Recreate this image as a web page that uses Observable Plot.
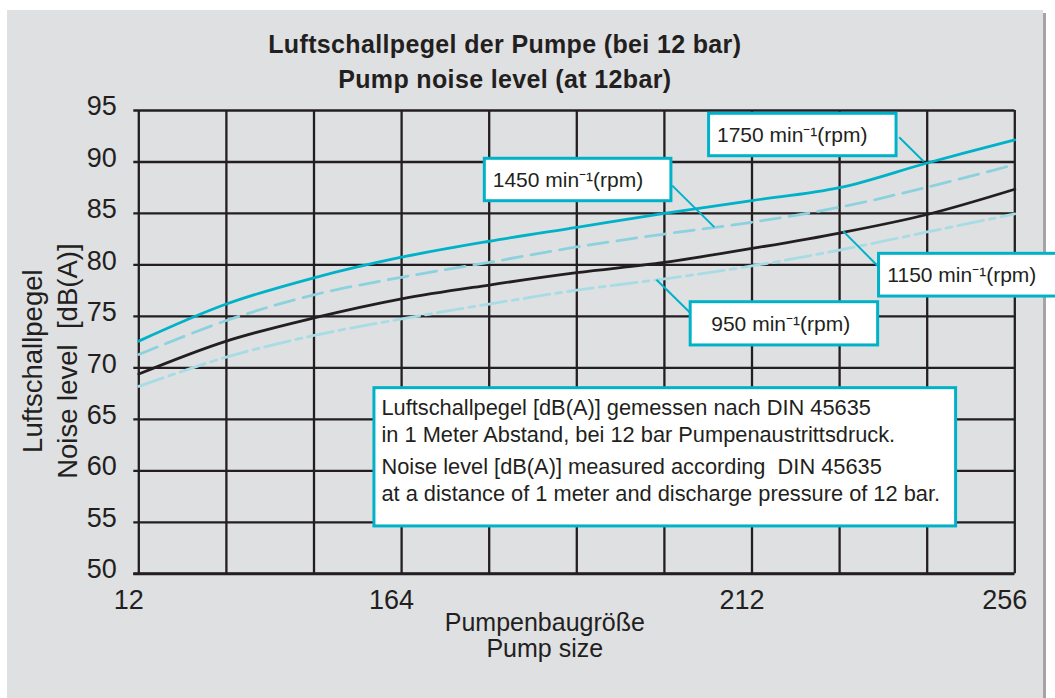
<!DOCTYPE html>
<html><head><meta charset="utf-8">
<script src="https://cdn.jsdelivr.net/npm/d3@7"></script>
<script src="https://cdn.jsdelivr.net/npm/@observablehq/plot@0.6"></script>
<style>
html,body{margin:0;padding:0;background:#fff;overflow:hidden}
#wrap{position:relative;width:1055px;height:698px}
#panel{position:absolute;left:7px;top:10px;width:1036px;height:688px;background:#dfe0e2}
#shadow{position:absolute;left:1043px;top:13px;width:3px;height:685px;background:#a4a4a4}
#chart{position:absolute;left:0;top:0}
</style></head><body>
<div id="wrap"><div id="panel"></div><div id="shadow"></div><div id="chart"></div></div>
<script>
// ---- data ----
const gridPositions = [0, 1, 2, 3, 4, 5, 6, 7, 8, 9, 10];
const rpm1750 = [72.6, 76.2, 78.75, 80.75, 82.3, 83.65, 85.0, 86.25, 87.5, 89.9, 92.15];
const rpm1450 = [71.3, 74.6, 77.1, 78.8, 80.25, 81.75, 83.0, 84.15, 85.6, 87.55, 89.75];
const rpm1150 = [69.4, 72.6, 74.85, 76.7, 78.05, 79.25, 80.25, 81.6, 83.1, 84.9, 87.35];
const rpm950  = [68.2, 71.05, 73.15, 74.75, 76.2, 77.55, 78.65, 79.9, 81.45, 83.2, 84.95];
const xTickPositions = [0, 3, 7, 10];
const xTickLabels = ["12", "164", "212", "256"];
const yTicks = [50, 55, 60, 65, 70, 75, 80, 85, 90, 95];
const seriesLabels = ["1750 min⁻¹(rpm)", "1450 min⁻¹(rpm)", "1150 min⁻¹(rpm)", "950 min⁻¹(rpm)"];
const titleLines = ["Luftschallpegel der Pumpe (bei 12 bar)", "Pump noise level (at 12bar)"];
const xTitle = ["Pumpenbaugröße", "Pump size"];
const yTitle = ["Luftschallpegel", "Noise level  [dB(A)]"];
const noteDe = ["Luftschallpegel [dB(A)] gemessen nach DIN 45635", "in 1 Meter Abstand, bei 12 bar Pumpenaustrittsdruck."];
const noteEn = ["Noise level [dB(A)] measured according  DIN 45635", "at a distance of 1 meter and discharge pressure of 12 bar."];

// ---- annotation layout (data coordinates) ----
const callouts = [
  {label: seriesLabels[0], x1: 6.51, x2: 8.65, y1: 90.56, y2: 94.68, tx: 6.60, lx1: 8.68, ly1: 92.4, lx2: 8.96, ly2: 90.05},
  {label: seriesLabels[1], x1: 3.95, x2: 6.08, y1: 86.19, y2: 90.31, tx: 4.04, lx1: 6.09, ly1: 87.7, lx2: 6.57, ly2: 83.67},
  {label: seriesLabels[2], x1: 8.45, x2: 10.5, y1: 76.93, y2: 81.08, tx: 8.545, lx1: 8.43, ly1: 79.95, lx2: 8.04, ly2: 83.28},
  {label: seriesLabels[3], x1: 6.30, x2: 8.44, y1: 72.18, y2: 76.38, tx: 6.535, lx1: 6.30, ly1: 75.31, lx2: 5.91, ly2: 78.56}
];
const noteBox = {x1: 2.69, x2: 9.33, y1: 54.6, y2: 68.03, tx: 2.77};

const teal = "#00b2c8", dashTeal = "#8cd2de", dotTeal = "#a8dce5", ink = "#231f20";
const font = "'Liberation Sans', Arial, Helvetica, sans-serif";

const series = [
  {values: rpm1750, stroke: teal, dash: null},
  {values: rpm1450, stroke: dashTeal, dash: "20,9"},
  {values: rpm1150, stroke: ink, dash: null},
  {values: rpm950, stroke: dotTeal, dash: "26,6,6,6"}
];
const lineMarks = series.map(s => Plot.line(gridPositions.map((p, i) => ({x: p, y: s.values[i]})), {
  x: "x", y: "y", stroke: s.stroke, strokeWidth: 2.8, strokeDasharray: s.dash, curve: "catmull-rom"
}));

const chart = Plot.plot({
  width: 1055, height: 698,
  marginLeft: 138.3, marginRight: 40.7, marginTop: 110, marginBottom: 124.7,
  x: {domain: [0, 10], axis: null},
  y: {domain: [50, 95], axis: null},
  style: {fontFamily: font, fontSize: "25px", background: "transparent", color: ink},
  marks: [
    Plot.ruleY(yTicks, {stroke: ink, strokeWidth: 2.3, insetLeft: -5}),
    Plot.ruleX(gridPositions, {stroke: ink, strokeWidth: 2.3}),
    Plot.ruleY([50], {stroke: ink, strokeWidth: 3, insetLeft: -5}),
    ...lineMarks,
    Plot.link(callouts, {x1: "lx1", y1: "ly1", x2: "lx2", y2: "ly2", stroke: teal, strokeWidth: 2}),
    Plot.rect(callouts, {x1: "x1", x2: "x2", y1: "y1", y2: "y2", fill: "white", stroke: teal, strokeWidth: 3}),
    Plot.text(callouts, {x: "tx", y: d => (d.y1 + d.y2) / 2, text: "label", textAnchor: "start", fontSize: 21, fill: ink}),
    Plot.rect([noteBox], {x1: "x1", x2: "x2", y1: "y1", y2: "y2", fill: "white", stroke: teal, strokeWidth: 3}),
    Plot.text([noteDe.join("\n")], {x: noteBox.tx, y: noteBox.y2, text: d => d, textAnchor: "start", lineAnchor: "top", lineHeight: 1.22, dy: 8, fontSize: 21.8, fill: ink}),
    Plot.text([noteEn.join("\n")], {x: noteBox.tx, y: noteBox.y2, text: d => d, textAnchor: "start", lineAnchor: "top", lineHeight: 1.27, dy: 66, fontSize: 21.8, fill: ink}),
    // tick labels
    Plot.text(yTicks, {y: d => d, text: d => String(d), frameAnchor: "left", textAnchor: "end", dx: -22, dy: -4, fontSize: 27, fill: ink}),
    Plot.text(xTickPositions, {x: d => d, text: (d, i) => xTickLabels[i], frameAnchor: "bottom", lineAnchor: "top", dy: 16, dx: -10, fontSize: 27, fill: ink}),
    // titles
    Plot.text([titleLines.join("\n")], {text: d => d, frameAnchor: "top", textAnchor: "middle", lineAnchor: "top", lineHeight: 1.4, dy: -82, dx: -72, fontSize: 25, fontWeight: "bold", fill: ink}),
    Plot.text([xTitle.join("\n")], {text: d => d, frameAnchor: "bottom", textAnchor: "middle", lineAnchor: "top", lineHeight: 1.04, dy: 39, dx: -32, fontSize: 25, fill: ink}),
    Plot.text([yTitle.join("\n")], {text: d => d, frameAnchor: "left", textAnchor: "middle", lineAnchor: "top", rotate: -90, lineHeight: 1.28, dx: -122, dy: 19, fontSize: 27.5, fill: ink})
  ]
});
chart.querySelectorAll("text").forEach(t => { if (t.textContent.includes("Pumpe (bei") || t.textContent.includes("Pump noise")) t.setAttribute("letter-spacing", "0.35"); });
document.getElementById("chart").appendChild(chart);
</script>
</body></html>
